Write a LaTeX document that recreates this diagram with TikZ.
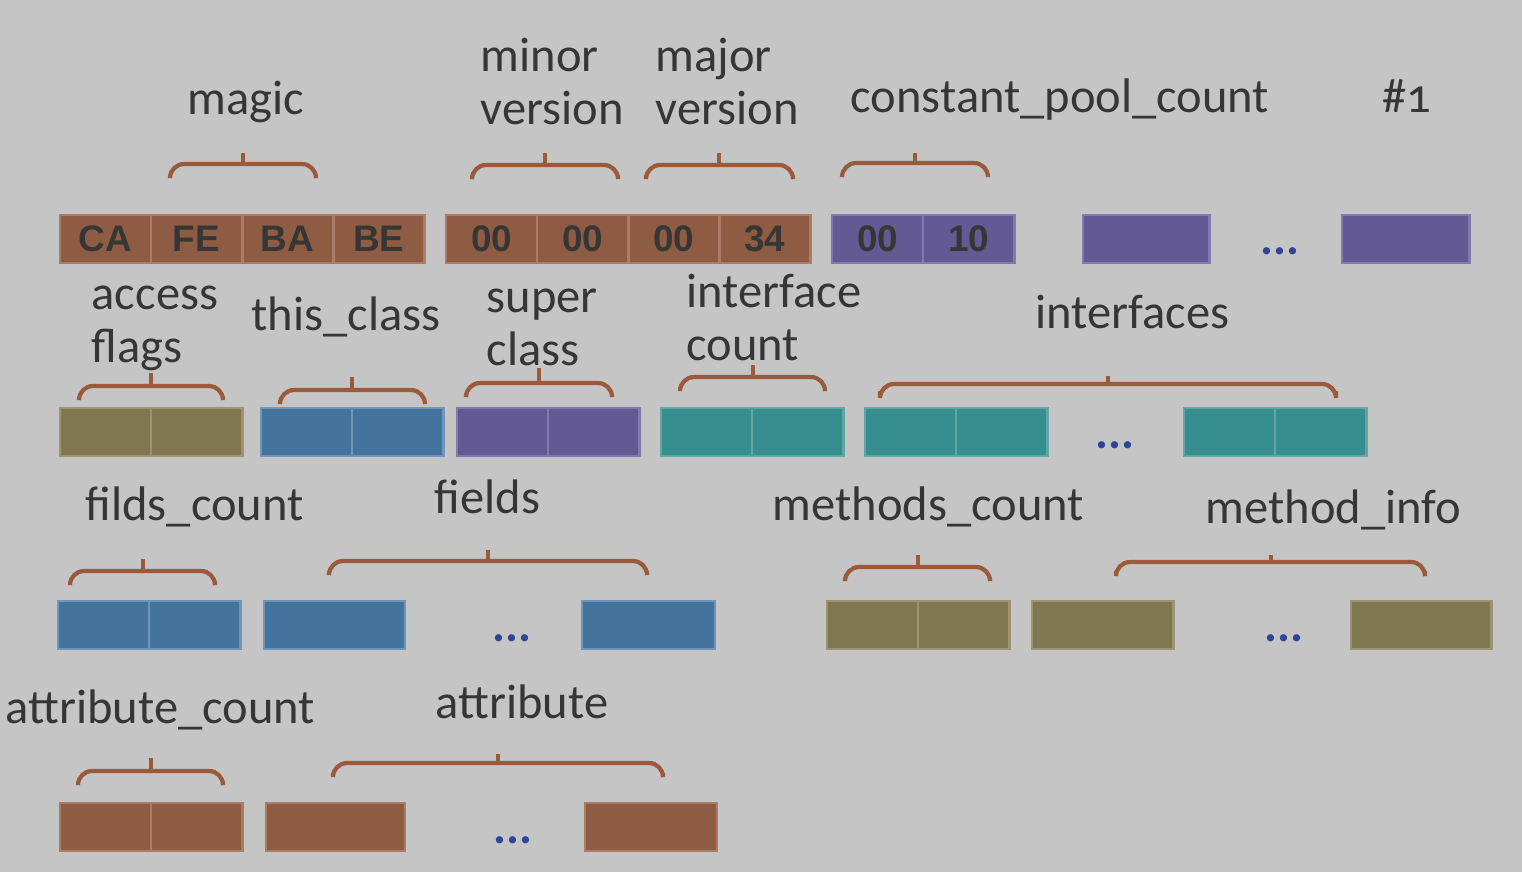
\documentclass[tikz,border=0pt]{standalone}
\usepackage{fontspec}
\setmainfont{Carlito}
\newfontfamily\hexfont{Liberation Sans}
\usepackage{xcolor}
\usepackage{tikz}
\usetikzlibrary{positioning}
\definecolor{paper}{HTML}{C5C5C5}
\definecolor{inkgray}{HTML}{363636}
\definecolor{bracebrown}{HTML}{9A5A3B}
\definecolor{rust}{HTML}{8E5B43}
\definecolor{rustline}{HTML}{AB7D68}
\definecolor{violet}{HTML}{635A93}
\definecolor{violetline}{HTML}{8479AE}
\definecolor{olive}{HTML}{7F7750}
\definecolor{oliveline}{HTML}{9C9470}
\definecolor{steel}{HTML}{44739E}
\definecolor{steelline}{HTML}{6F95BA}
\definecolor{teal}{HTML}{368E8E}
\definecolor{tealline}{HTML}{60A6A4}
\definecolor{dotblue}{HTML}{2F4696}

% bracket over a field: left, right, middle, bar y, foot y, tick y
\newcommand{\fieldbrace}[6]{%
  \draw[bracket] (#1,#5) -- (#1,#4) -- (#2,#4) -- (#2,#5);
  \draw[bracket] (#3,#4) -- (#3,#6);}

\begin{document}
\begin{tikzpicture}[x=0.01cm, y=-0.01cm,
    label/.style={anchor=base west, inner sep=0pt, text=inkgray, align=left,
                  font=\fontsize{13.8}{14.9}\selectfont},
    cell/.style={draw, line width=0.8pt, anchor=west, outer sep=0pt, inner sep=0pt,
                 minimum height=0.48cm, minimum width=0.91cm, text=inkgray,
                 font=\hexfont\bfseries\fontsize{10.5}{12}\selectfont},
    rustcell/.style={cell, fill=rust, draw=rustline},
    violetcell/.style={cell, fill=violet, draw=violetline},
    olivecell/.style={cell, fill=olive, draw=oliveline},
    steelcell/.style={cell, fill=steel, draw=steelline},
    tealcell/.style={cell, fill=teal, draw=tealline},
    dots/.style={anchor=base, inner sep=0pt, text=dotblue,
                 font=\bfseries\fontsize{13.8}{14}\selectfont},
    bracket/.style={draw=bracebrown, line width=1.2pt, rounded corners=4pt}]

  \useasboundingbox (0,0) rectangle (1522,872);
  \fill[paper] (0,0) rectangle (1522,872);

  % row 1: magic, versions, constant pool
  \node[label] (magiclbl) at (187,114) {magic};
  \node[label] (minorlbl) at (480,124) {minor\\version};
  \node[label] (majorlbl) at (655,124) {major\\version};
  \node[label] (cpclbl) at (850,112) {constant\_pool\_count};
  \node[label] (cplbl) at (1382,112) {\#\addfontfeatures{Numbers=OldStyle}1};

  \fieldbrace{170}{316}{243}{164}{177}{153}
  \fieldbrace{472}{618}{545}{165}{177}{153}
  \fieldbrace{646}{793}{719}{165}{177}{153}
  \fieldbrace{842}{988}{915}{163}{176}{153}

  \node[rustcell] (magic1) at (60,239) {CA};
  \node[rustcell, right=0pt of magic1] (magic2) {FE};
  \node[rustcell, right=0pt of magic2] (magic3) {BA};
  \node[rustcell, right=0pt of magic3] (magic4) {BE};
  \node[rustcell] (minor1) at (446,239) {00};
  \node[rustcell, right=0pt of minor1] (minor2) {00};
  \node[rustcell, right=0pt of minor2] (major1) {00};
  \node[rustcell, right=0pt of major1] (major2) {34};
  \node[violetcell] (cpc1) at (832,239) {00};
  \node[violetcell, right=0pt of cpc1] (cpc2) {10};
  \node[violetcell, minimum width=1.26cm] (cp1) at (1083,239) {};
  \node[dots] (cpdots) at (1280,254) {...};
  \node[violetcell, minimum width=1.27cm] (cpn) at (1342,239) {};

  % row 2: access flags, classes, interfaces
  \node[label] (acclbl) at (91,362) {access\\flags};
  \node[label] (thislbl) at (251,330) {this\_class};
  \node[label] (superlbl) at (486,365) {super\\class};
  \node[label] (ifclbl) at (686,360) {interface\\count};
  \node[label] (iflbl) at (1035,328) {interfaces};

  \fieldbrace{79}{223}{151}{386}{398}{373}
  \fieldbrace{280}{425}{352}{390}{402}{377}
  \fieldbrace{466}{612}{539}{383}{394}{368}
  \fieldbrace{680}{825}{753}{377}{390}{365}
  \fieldbrace{880}{1336}{1108}{384}{391}{376}

  \node[olivecell] (acc1) at (60,432) {};
  \node[olivecell, right=0pt of acc1] (acc2) {};
  \node[steelcell] (this1) at (261,432) {};
  \node[steelcell, right=0pt of this1] (this2) {};
  \node[violetcell] (super1) at (457,432) {};
  \node[violetcell, right=0pt of super1] (super2) {};
  \node[tealcell] (ifc1) at (661,432) {};
  \node[tealcell, right=0pt of ifc1] (ifc2) {};
  \node[tealcell] (if1a) at (865,432) {};
  \node[tealcell, right=0pt of if1a] (if1b) {};
  \node[dots] (ifdots) at (1115,448) {...};
  \node[tealcell] (ifna) at (1184,432) {};
  \node[tealcell, right=0pt of ifna] (ifnb) {};

  % row 3: fields and methods
  \node[label] (fclbl) at (85,520) {filds\_count};
  \node[label] (fldlbl) at (434,513) {fields};
  \node[label] (mclbl) at (772,520) {methods\_count};
  \node[label] (milbl) at (1205,523) {method\_info};

  \fieldbrace{70}{215}{143}{571}{583}{559}
  \fieldbrace{329}{647}{488}{561}{571}{550}
  \fieldbrace{845}{990}{918}{567}{578}{555}
  \fieldbrace{1116}{1425}{1271}{562}{571}{555}

  \node[steelcell] (fc1) at (58,625) {};
  \node[steelcell, right=0pt of fc1] (fc2) {};
  \node[steelcell, minimum width=1.41cm] (fld1) at (264,625) {};
  \node[dots] (flddots) at (512,641) {...};
  \node[steelcell, minimum width=1.33cm] (fldn) at (582,625) {};
  \node[olivecell] (mc1) at (827,625) {};
  \node[olivecell, right=0pt of mc1] (mc2) {};
  \node[olivecell, minimum width=1.41cm] (mi1) at (1032,625) {};
  \node[dots] (midots) at (1284,641) {...};
  \node[olivecell, minimum width=1.40cm] (min) at (1351,625) {};

  % row 4: attributes
  \node[label] (aclbl) at (5,723) {attribute\_count};
  \node[label] (attrlbl) at (435,718) {attribute};

  \fieldbrace{78}{223}{151}{771}{783}{758}
  \fieldbrace{333}{663}{498}{763}{773}{754}

  \node[rustcell] (ac1) at (60,827) {};
  \node[rustcell, right=0pt of ac1] (ac2) {};
  \node[rustcell, minimum width=1.39cm] (at1) at (266,827) {};
  \node[dots] (atdots) at (513,843) {...};
  \node[rustcell, minimum width=1.32cm] (atn) at (585,827) {};
\end{tikzpicture}
\end{document}
